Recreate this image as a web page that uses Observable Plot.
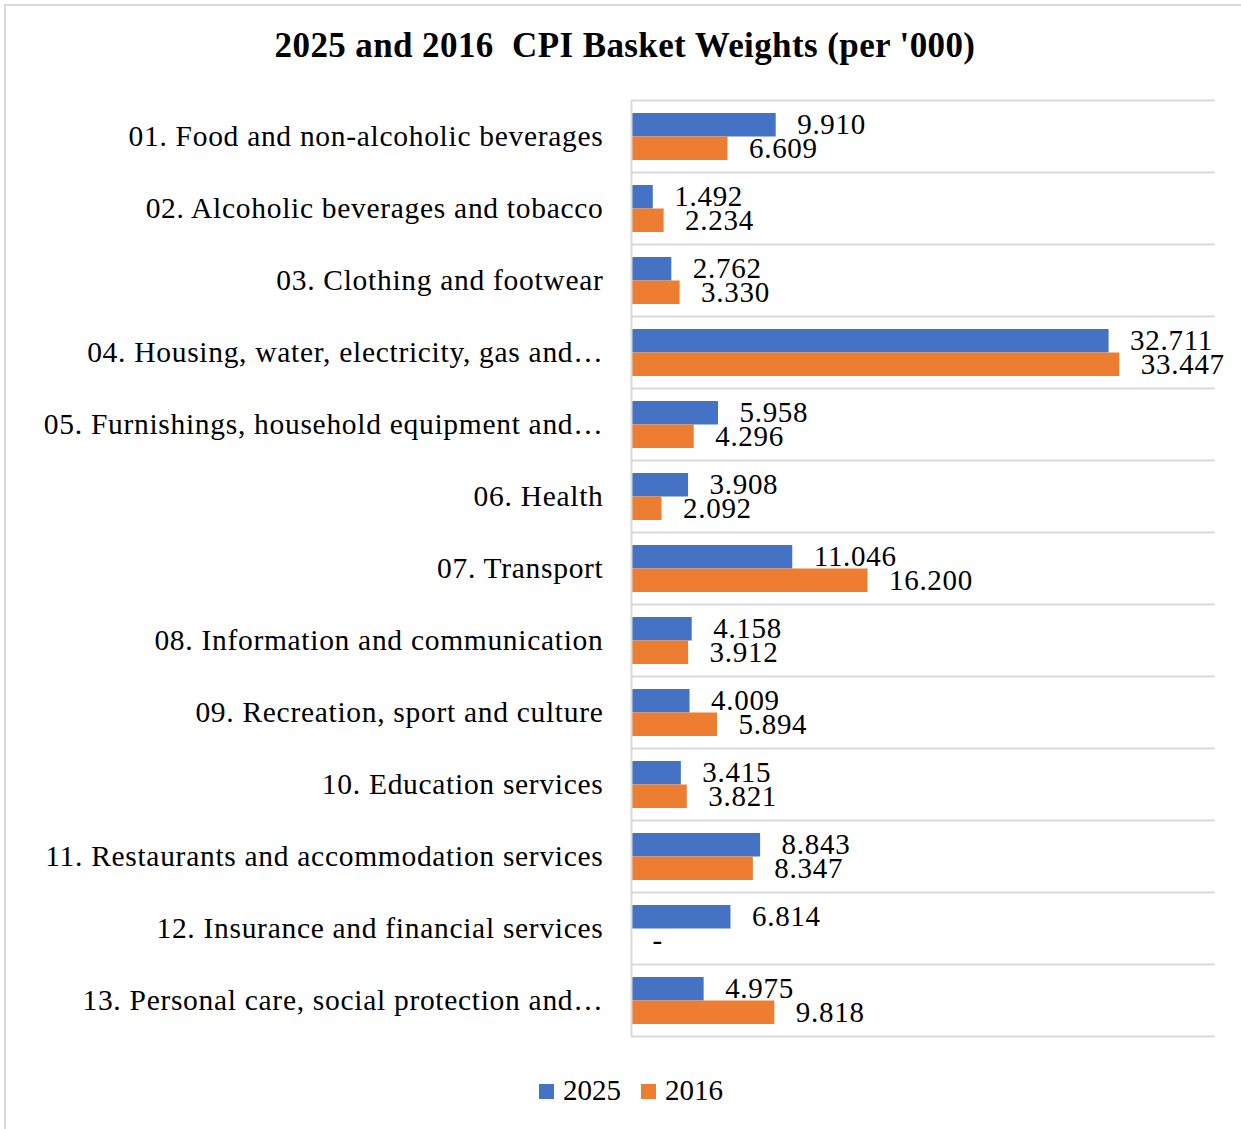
<!DOCTYPE html>
<html>
<head>
<meta charset="utf-8">
<script src="https://cdn.jsdelivr.net/npm/d3@7"></script>
<script src="https://cdn.jsdelivr.net/npm/@observablehq/plot@0.6"></script>
<style>
  html, body { margin: 0; padding: 0; background: #fff; width: 1241px; height: 1129px; overflow: hidden; }
  body { position: relative; font-family: "Liberation Serif", "DejaVu Serif", serif; color: #000; }
  #frame { position: absolute; left: 4px; top: 4px; width: 1250px; height: 1140px; border: 2px solid #d9d9d9; box-sizing: border-box; }
  #title { position: absolute; left: 0; width: 1250px; top: 25px; text-align: center; font-weight: bold; font-size: 35px; letter-spacing: 0.4px; line-height: 42px; white-space: pre; }
  #chart { position: absolute; left: 0; top: 80px; }
  #chart svg text { letter-spacing: 0.7px; }
  #legend { position: absolute; left: 0; width: 1262px; top: 1072px; text-align: center; font-size: 29px; line-height: 36px; }
  .sw { display: inline-block; width: 15px; height: 15px; margin-right: 9px; vertical-align: 1px; }
  .item { display: inline-block; margin: 0 10px; }
</style>
</head>
<body>
<div id="frame"></div>
<div id="title">2025 and 2016  CPI Basket Weights (per '000)</div>
<div id="chart"></div>
<div id="legend"></div>
<script>
const categories = [
  "01. Food and non-alcoholic beverages",
  "02. Alcoholic beverages and tobacco",
  "03. Clothing and footwear",
  "04. Housing, water, electricity, gas and…",
  "05. Furnishings, household equipment and…",
  "06. Health",
  "07. Transport",
  "08. Information and communication",
  "09. Recreation, sport and culture",
  "10. Education services",
  "11. Restaurants and accommodation services",
  "12. Insurance and financial services",
  "13. Personal care, social protection and…"
];
const values2025 = [9.910, 1.492, 2.762, 32.711, 5.958, 3.908, 11.046, 4.158, 4.009, 3.415, 8.843, 6.814, 4.975];
const values2016 = [6.609, 2.234, 3.330, 33.447, 4.296, 2.092, 16.200, 3.912, 5.894, 3.821, 8.347, 0, 9.818];
const seriesNames = ["2025", "2016"];
const seriesColors = ["#4472C4", "#ED7D31"];

const d25 = categories.map((c, i) => ({category: c, value: values2025[i]}));
const d16 = categories.map((c, i) => ({category: c, value: values2016[i]}));
const fmt = v => v === 0 ? "-" : v.toFixed(3);

const bandH = 72;
const marginTop = 20, marginBottom = 10;
const H = marginTop + marginBottom + bandH * categories.length;

const chart = Plot.plot({
  width: 1241,
  height: H,
  marginLeft: 631,
  marginRight: 26,
  marginTop,
  marginBottom,
  style: {fontFamily: '"Liberation Serif", "DejaVu Serif", serif', fontSize: "29.5px", color: "#000", background: "transparent", overflow: "visible"},
  x: {domain: [0, 40], axis: null},
  y: {domain: categories, padding: 0, label: null, tickSize: 0, tickPadding: 28},
  marks: [
    Plot.ruleY(categories, {y: d => d, dy: -bandH / 2, x1: 0, x2: 40, stroke: "#d9d9d9", strokeWidth: 2}),
    Plot.ruleY([categories[categories.length - 1]], {y: d => d, dy: bandH / 2, x1: 0, x2: 40, stroke: "#d9d9d9", strokeWidth: 2}),
    Plot.barX(d25, {y: "category", x: "value", fill: seriesColors[0], insetTop: 13, insetBottom: 35.5}),
    Plot.barX(d16, {y: "category", x: "value", fill: seriesColors[1], insetTop: 36.5, insetBottom: 12}),
    Plot.ruleX([0], {stroke: "#d9d9d9", strokeWidth: 2}),
    Plot.text(d25, {y: "category", x: "value", text: d => fmt(d.value), dx: 21, dy: -11.5, textAnchor: "start", fontSize: 29, fill: "#000"}),
    Plot.text(d16, {y: "category", x: "value", text: d => fmt(d.value), dx: 21, dy: 12.5, textAnchor: "start", fontSize: 29, fill: "#000"})
  ]
});
document.getElementById("chart").appendChild(chart);

const legend = document.getElementById("legend");
seriesNames.forEach((name, i) => {
  const item = document.createElement("span");
  item.className = "item";
  const sw = document.createElement("span");
  sw.className = "sw";
  sw.style.background = seriesColors[i];
  item.appendChild(sw);
  item.appendChild(document.createTextNode(name));
  legend.appendChild(item);
});
</script>
</body>
</html>
